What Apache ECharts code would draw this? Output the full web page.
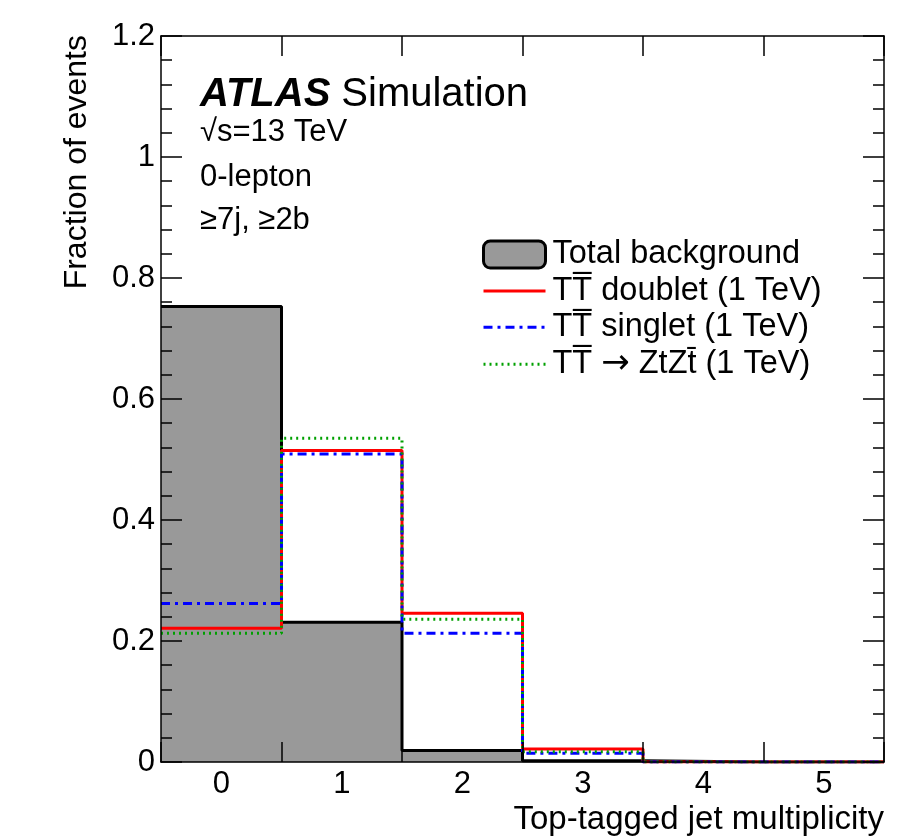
<!DOCTYPE html>
<html>
<head>
<meta charset="utf-8">
<script src="https://cdn.jsdelivr.net/npm/echarts@6/dist/echarts.min.js"></script>
<style>
  html, body { margin: 0; padding: 0; background: #fff; }
  #chart { width: 897px; height: 840px; }
</style>
</head>
<body>
<div id="chart"></div>
<script>
// Top-tagged jet multiplicity bins and normalised fractions per sample
const binLabels = [0, 1, 2, 3, 4, 5];
const totalBackground = [0.753, 0.231, 0.019, 0.002, 0, 0];
const doublet = [0.221, 0.515, 0.246, 0.0215, 0, 0];
const singlet = [0.262, 0.509, 0.213, 0.0145, 0, 0];
const ztzt = [0.213, 0.535, 0.236, 0.017, 0, 0];
const yTicks = [0, 0.2, 0.4, 0.6, 0.8, 1, 1.2];

const names = {
  bkg: 'Total background',
  doublet: 'TT\u0305 doublet (1 TeV)',
  singlet: 'TT\u0305 singlet (1 TeV)',
  ztzt: 'TT\u0305 \u2192 ZtZt\u0304 (1 TeV)'
};

const FONT = '"Liberation Sans", Arial, Helvetica, sans-serif';

// Line styles shared by the plotted histograms and their legend keys
const styles = {
  doublet: { color: '#ff0000', width: 3, type: 'solid' },
  singlet: { color: '#0000ff', width: 3, type: [9, 5, 3, 5] },
  ztzt: { color: '#00a000', width: 3, type: [2, 4] }
};

// Histogram outline as a step line: one point at each bin's low edge plus the final edge
function histSteps(values) {
  const pts = values.map((v, i) => [binLabels[i] - 0.5, v]);
  pts.push([binLabels[binLabels.length - 1] + 0.5, values[values.length - 1]]);
  return pts;
}

const binEdges = binLabels.map(b => b - 0.5).concat([binLabels[binLabels.length - 1] + 0.5]);

const chart = echarts.init(document.getElementById('chart'), null, { renderer: 'canvas' });

const frameLine = { show: true, onZero: false, lineStyle: { color: '#000', width: 1.5 } };
const tickStyle = { color: '#000', width: 1.5 };
const hideSymbol = { opacity: 0 };

chart.setOption({
  backgroundColor: '#fff',
  animation: false,
  textStyle: { fontFamily: FONT },
  grid: { left: 161, right: 13, top: 36, bottom: 78 },
  xAxis: [
    {
      type: 'value', position: 'bottom', min: -0.5, max: 5.5, z: 10,
      axisLine: frameLine,
      axisTick: { show: true, inside: true, length: 20, customValues: binEdges, lineStyle: tickStyle },
      axisLabel: { customValues: binLabels, margin: 7, color: '#000', fontSize: 31, fontFamily: FONT },
      splitLine: { show: false }
    },
    {
      type: 'value', position: 'top', min: -0.5, max: 5.5, z: 10,
      axisLine: frameLine,
      axisTick: { show: true, inside: true, length: 20, customValues: binEdges, lineStyle: tickStyle },
      axisLabel: { show: false },
      splitLine: { show: false }
    }
  ],
  yAxis: [
    {
      type: 'value', position: 'left', min: 0, max: 1.2, interval: 0.2, z: 10,
      axisLine: frameLine,
      axisTick: { show: true, inside: true, length: 21, lineStyle: tickStyle },
      minorTick: { show: true, splitNumber: 5, length: 11, lineStyle: tickStyle },
      axisLabel: { margin: 6, color: '#000', fontSize: 31, fontFamily: FONT,
        formatter: v => { const t = yTicks.find(y => Math.abs(y - v) < 1e-9); return t === undefined ? '' : String(t); } },
      splitLine: { show: false }
    },
    {
      type: 'value', position: 'right', min: 0, max: 1.2, interval: 0.2, z: 10,
      axisLine: frameLine,
      axisTick: { show: true, inside: true, length: 21, lineStyle: tickStyle },
      minorTick: { show: true, splitNumber: 5, length: 11, lineStyle: tickStyle },
      axisLabel: { show: false },
      splitLine: { show: false }
    }
  ],
  legend: {
    orient: 'vertical',
    left: 477, top: 233,
    itemWidth: 62, itemHeight: 27, itemGap: 3.4,
    selectedMode: false,
    formatter: n => n.replace('\u2192', '{arr|\u2192}'),
    textStyle: {
      fontSize: 32.5, color: '#000', fontFamily: FONT, lineHeight: 32, padding: [0, 0, 0, 2],
      rich: { arr: { fontSize: 34, fontFamily: '"DejaVu Sans", sans-serif', color: '#000', lineHeight: 32 } }
    },
    data: [
      { name: names.bkg, icon: 'roundRect', itemStyle: { color: '#999999', borderColor: '#000', borderWidth: 3 } },
      { name: names.doublet, itemStyle: hideSymbol, lineStyle: styles.doublet },
      { name: names.singlet, itemStyle: hideSymbol, lineStyle: styles.singlet },
      { name: names.ztzt, itemStyle: hideSymbol, lineStyle: styles.ztzt }
    ]
  },
  graphic: [
    {
      type: 'text', left: 200, top: 75, z: 20,
      style: {
        text: '{a|ATLAS}{s| }{b|Simulation}',
        rich: {
          a: { fontSize: 40, fontWeight: 'bold', fontStyle: 'italic', fontFamily: FONT, fill: '#000' },
          s: { fontSize: 40, fontFamily: FONT, width: 11 },
          b: { fontSize: 40, fontFamily: FONT, fill: '#000' }
        }
      }
    },
    { type: 'text', left: 200, top: 117, z: 20, style: { text: '\u221As=13 TeV', fontSize: 31, fontFamily: FONT, fill: '#000' } },
    { type: 'text', left: 200, top: 162, z: 20, style: { text: '0-lepton', fontSize: 31, fontFamily: FONT, fill: '#000' } },
    { type: 'text', left: 200, top: 205, z: 20, style: { text: '\u22657j, \u22652b', fontSize: 31, fontFamily: FONT, fill: '#000' } },
    {
      type: 'text', x: 77, y: 35, rotation: Math.PI / 2, z: 20,
      style: { text: 'Fraction of events', fontSize: 32, fontFamily: FONT, fill: '#000', align: 'right', verticalAlign: 'middle' }
    },
    {
      type: 'text', x: 884, y: 820, z: 20,
      style: { text: 'Top-tagged jet multiplicity', fontSize: 33, fontFamily: FONT, fill: '#000', align: 'right', verticalAlign: 'middle' }
    }
  ],
  series: [
    {
      name: names.bkg, type: 'line', step: 'end', data: histSteps(totalBackground),
      symbol: 'none', z: 1,
      lineStyle: { color: '#000', width: 3 },
      itemStyle: { color: '#999999' },
      areaStyle: { color: '#999999', opacity: 1, origin: 'start' }
    },
    {
      name: names.doublet, type: 'line', step: 'end', data: histSteps(doublet),
      symbol: 'none', z: 3,
      lineStyle: styles.doublet,
      itemStyle: { color: styles.doublet.color }
    },
    {
      name: names.singlet, type: 'line', step: 'end', data: histSteps(singlet),
      symbol: 'none', z: 4,
      lineStyle: styles.singlet,
      itemStyle: { color: styles.singlet.color }
    },
    {
      name: names.ztzt, type: 'line', step: 'end', data: histSteps(ztzt),
      symbol: 'none', z: 5,
      lineStyle: styles.ztzt,
      itemStyle: { color: styles.ztzt.color }
    }
  ]
});
</script>
</body>
</html>
